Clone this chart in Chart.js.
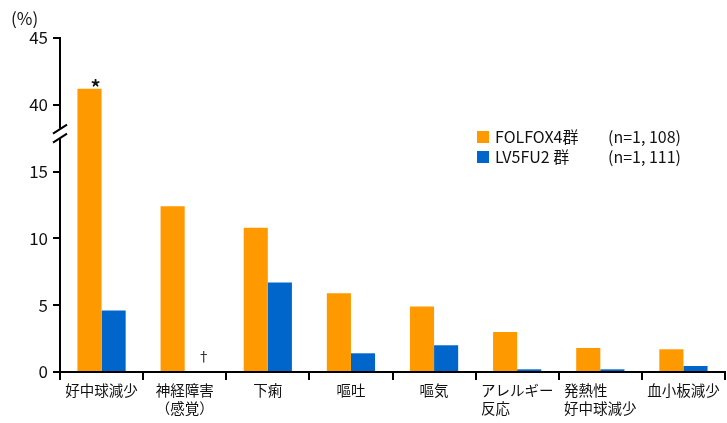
<!DOCTYPE html>
<html>
<head>
<meta charset="utf-8">
<script src="https://cdn.jsdelivr.net/npm/chart.js@4.4.1/dist/chart.umd.min.js"></script>
<style>
  body { margin: 0; background: #fff; }
</style>
</head>
<body>
<canvas id="mycanvas" width="727" height="423"></canvas>
<script>
var categories = ['好中球減少', ['神経障害', '（感覚）'], '下痢', '嘔吐', '嘔気',
	['アレルギー', '反応　　　'], ['発熱性　　', '好中球減少'], '血小板減少'];
var folfox = [41.2, 12.4, 10.8, 5.9, 4.9, 3.0, 1.8, 1.7];
var lv5fu2 = [4.6, 0, 6.7, 1.4, 2.0, 0.2, 0.2, 0.45];
var legendNames = ['FOLFOX4群', 'LV5FU2 群'];
var legendN = ['(n=1, 108)', '(n=1, 111)'];
var yTicks = [0, 5, 10, 15, 40, 45];

// values above the break (15 -> 40) are shifted down by 20
var GAP = 20;
function toAxis(v){ return v > 15 ? v - GAP : v; }

var FONT = "'Noto Sans CJK JP', 'Noto Sans', sans-serif";
var ORANGE = '#ff9900';
var BLUE = '#0066cc';

var extras = {
	id: 'extras',
	afterDraw: function(chart){
		var ctx = chart.ctx;
		var y = chart.scales.y;
		var x0 = chart.chartArea.left;
		var brkTop = y.getPixelForValue(15) - 43;
		ctx.save();
		ctx.strokeStyle = '#000';
		ctx.lineWidth = 2;
		// broken y axis
		ctx.beginPath();
		ctx.moveTo(x0, chart.chartArea.top - 1);
		ctx.lineTo(x0, brkTop);
		ctx.moveTo(x0, brkTop + 10);
		ctx.lineTo(x0, chart.chartArea.bottom);
		ctx.stroke();
		ctx.beginPath();
		ctx.moveTo(x0 - 7, brkTop + 5);
		ctx.lineTo(x0 + 7, brkTop - 4);
		ctx.moveTo(x0 - 7, brkTop + 14);
		ctx.lineTo(x0 + 7, brkTop + 5);
		ctx.stroke();

		ctx.fillStyle = '#111';
		ctx.font = '17px ' + FONT;
		ctx.textBaseline = 'alphabetic';
		ctx.textAlign = 'left';
		ctx.fillText('(%)', 11, 25);

		// significance marks
		var m0 = chart.getDatasetMeta(0).data[0];
		ctx.font = 'bold 20px ' + FONT;
		ctx.textAlign = 'center';
		ctx.fillText('*', m0.x + 6, m0.y + 6);
		var m1 = chart.getDatasetMeta(1).data[1];
		ctx.font = '13px ' + FONT;
		ctx.fillText('†', m1.x + 7, m1.y - 11);

		// legend
		var colors = [ORANGE, BLUE];
		ctx.textAlign = 'left';
		ctx.font = '16px ' + FONT;
		for (var i = 0; i < 2; i++) {
			var ly = 131 + i * 20;
			ctx.fillStyle = colors[i];
			ctx.fillRect(477, ly, 12, 12);
			ctx.fillStyle = '#111';
			ctx.fillText(legendNames[i], 495, ly + 12);
			ctx.fillText(legendN[i], 608, ly + 12);
		}
		ctx.restore();
	}
};

var chartdata = {
	labels: categories,
	datasets: [
		{ label: legendNames[0], data: folfox.map(toAxis), backgroundColor: ORANGE },
		{ label: legendNames[1], data: lv5fu2.map(toAxis), backgroundColor: BLUE }
	]
};

var ctx = document.getElementById('mycanvas');
var chart = new Chart(ctx, {
	type: 'bar',
	data: chartdata,
	plugins: [extras],
	options: {
		responsive: false,
		animation: false,
		layout: { padding: { top: 38, right: 2, left: 0, bottom: 0 } },
		datasets: { bar: { categoryPercentage: 0.58, barPercentage: 1.0 } },
		plugins: { legend: { display: false }, tooltip: { enabled: false } },
		scales: {
			x: {
				afterFit: function(s){ s.height = 51; },
				border: { display: true, color: '#000', width: 2 },
				grid: { display: true, drawOnChartArea: false, offset: true, color: '#000', lineWidth: 2, tickLength: 8 },
				ticks: { color: '#111', font: { family: FONT, size: 14.5 }, padding: 2, maxRotation: 0, autoSkip: false }
			},
			y: {
				min: 0,
				max: 25,
				afterFit: function(s){ s.width = 60; },
				afterBuildTicks: function(s){
					s.ticks = yTicks.map(function(v){ return { value: toAxis(v) }; });
				},
				border: { display: false },
				grid: { drawOnChartArea: false, color: '#000', lineWidth: 2, tickLength: 7 },
				ticks: {
					color: '#111',
					font: { family: FONT, size: 17 },
					padding: 5,
					callback: function(v){ return v > 15 ? v + GAP : v; }
				}
			}
		}
	}
});
</script>
</body>
</html>
